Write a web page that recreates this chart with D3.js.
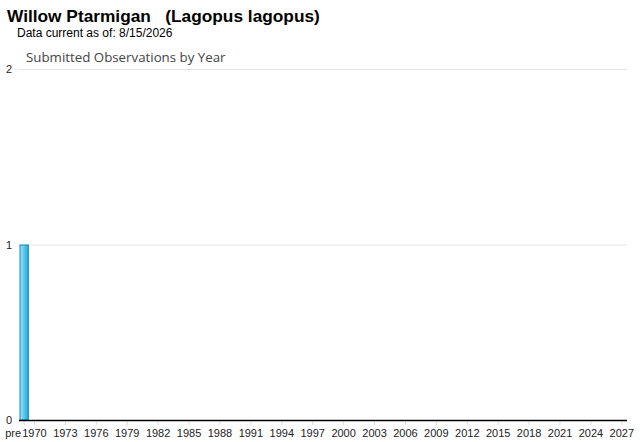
<!DOCTYPE html>
<html>
<head>
<meta charset="utf-8">
<script src="https://cdn.jsdelivr.net/npm/d3@7/dist/d3.min.js"></script>
<style>
    body { margin: 0; background: #fff; }
    .head { font-family: Arial, "Liberation Sans", sans-serif; }
    .axis .domain { display: none; }
</style>
</head>
<body>
<svg width="640" height="442"></svg>
<script>

    // data
    var speciesName = "Willow Ptarmigan",
        sciName = "(Lagopus lagopus)",
        dataDate = "8/15/2026",
        chartTitle = "Submitted Observations by Year";

    var years = ["pre"];
    for (var y = 1970; y <= 2027; y++) years.push(String(y));

    var counts = {"pre": 1};   // every other year is 0

    var yTicks = [0, 1, 2];

    var svg = d3.select("svg"),
        margin = {top: 69, right: 13, bottom: 22, left: 19},
        width = +svg.attr("width") - margin.left - margin.right,
        height = +svg.attr("height") - margin.top - margin.bottom;

    // header text
    svg.append("text").attr("class", "head")
        .attr("x", 7).attr("y", 22)
        .attr("font-size", "17.3px").attr("font-weight", "bold")
        .attr("fill", "#000")
        .attr("xml:space", "preserve")
        .text(speciesName + "   " + sciName);

    svg.append("text").attr("class", "head")
        .attr("x", 17).attr("y", 37)
        .attr("font-size", "12px")
        .attr("fill", "#000")
        .text("Data current as of: " + dataDate);

    svg.append("text")
        .attr("x", 26).attr("y", 62)
        .attr("font-family", "'Open Sans', 'DejaVu Sans', sans-serif")
        .attr("font-size", "13.3px")
        .attr("fill", "#444")
        .text(chartTitle);

    var g = svg.append("g").attr("transform", "translate(" + margin.left + "," + margin.top + ")");

    var x = d3.scaleBand().domain(years).range([0, width]).paddingInner(0.1).paddingOuter(0.05);
    var yS = d3.scaleLinear().domain([0, 2]).range([height, 0]);

    // bar gradient
    var grad = svg.append("defs").append("linearGradient")
        .attr("id", "barGrad").attr("x1", "0%").attr("x2", "100%").attr("y1", "0%").attr("y2", "0%");
    grad.append("stop").attr("offset", "0%").attr("stop-color", "#9ee2f7");
    grad.append("stop").attr("offset", "45%").attr("stop-color", "#5ccbef");
    grad.append("stop").attr("offset", "100%").attr("stop-color", "#2aa6d6");

    // gridlines
    g.selectAll(".grid")
        .data(yTicks.filter(function(d) { return d > 0; }))
        .enter().append("line")
        .attr("class", "grid")
        .attr("x1", -1).attr("x2", width)
        .attr("y1", function(d) { return yS(d) + 0.5; })
        .attr("y2", function(d) { return yS(d) + 0.5; })
        .attr("stroke", "#e3e3e3");

    // y labels
    var yAxis = g.append("g").attr("class", "axis")
        .call(d3.axisLeft(yS).tickValues(yTicks).tickFormat(d3.format("d")).tickSize(0).tickPadding(7));
    yAxis.selectAll("text")
        .attr("font-family", "Arial, 'Liberation Sans', sans-serif")
        .attr("font-size", "11px").attr("fill", "#222");

    // bars
    g.selectAll(".bar")
        .data(years.filter(function(d) { return counts[d]; }))
        .enter().append("rect")
        .attr("class", "bar")
        .attr("x", function(d) { return x(d) + 0.5; })
        .attr("y", function(d) { return yS(counts[d]) + 0.5; })
        .attr("width", x.bandwidth() - 1)
        .attr("height", function(d) { return height - yS(counts[d]) - 0.5; })
        .attr("fill", "url(#barGrad)")
        .attr("stroke", "#1887b6")
        .attr("stroke-width", 1);

    // x axis: label every third year
    var shown = years.filter(function(d, i) { return d == "pre" || (+d - 1970) % 3 == 0; });
    var xAxis = g.append("g").attr("class", "axis")
        .attr("transform", "translate(0," + height + ")")
        .call(d3.axisBottom(x).tickValues(shown).tickSize(5).tickPadding(4));
    xAxis.selectAll("line").attr("stroke", "#ddd");
    xAxis.selectAll("text")
        .attr("font-family", "Arial, 'Liberation Sans', sans-serif")
        .attr("font-size", "11px").attr("fill", "#222")
        .filter(function(d) { return d == "pre"; })
        .attr("text-anchor", "end").attr("dx", "-3px");

    g.append("line")
        .attr("x1", 0).attr("x2", width)
        .attr("y1", height + 0.5).attr("y2", height + 0.5)
        .attr("stroke", "#000").attr("stroke-width", 1.5);

</script>
</body>
</html>
